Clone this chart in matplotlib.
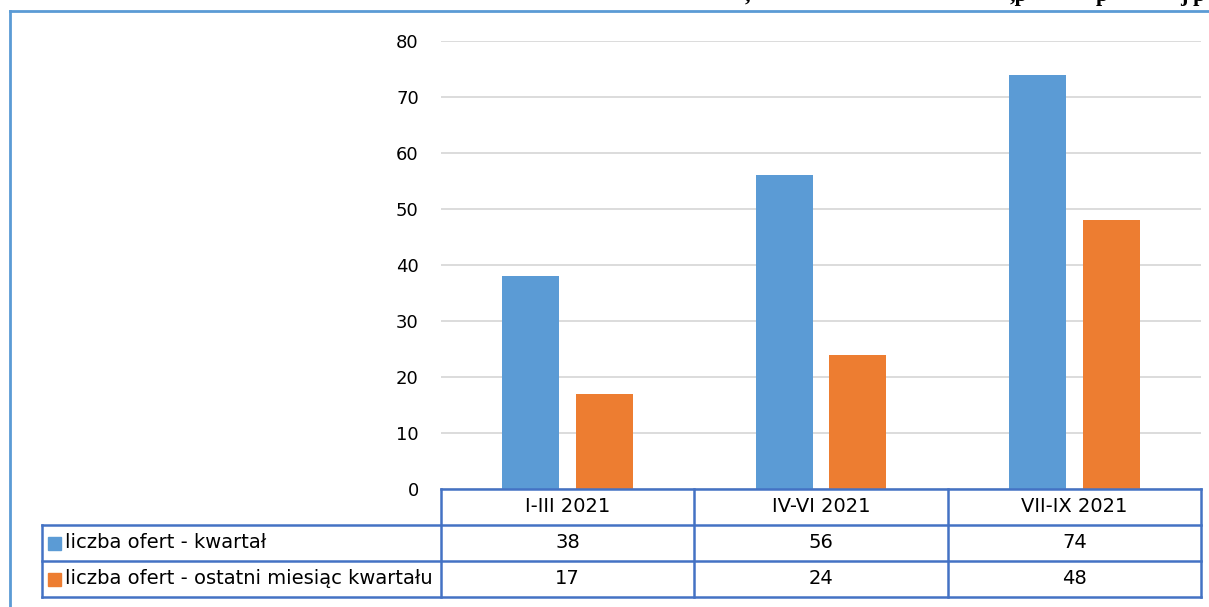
import matplotlib.pyplot as plt
from matplotlib.patches import Rectangle
from matplotlib.lines import Line2D
import numpy as np

# data
categories = ["I-III 2021", "IV-VI 2021", "VII-IX 2021"]
series_names = ["liczba ofert - kwartał", "liczba ofert - ostatni miesiąc kwartału"]
kwartal = [38, 56, 74]
ostatni_miesiac = [17, 24, 48]

blue = "#5B9BD5"
orange = "#ED7D31"
tbl_col = "#4472C4"
W, H = 1209, 607
fs_tick = 13
fs_tbl = 14

plt.rcParams['font.family'] = ['DejaVu Sans']

fig = plt.figure(figsize=(W / 100, H / 100), dpi=100)

def fx(px):
    return px / W

def fy(py):
    return 1 - py / H

# plot area
x0, x1, ytop, ybot = 441, 1201, 41, 489
ax = fig.add_axes([fx(x0), fy(ybot), fx(x1 - x0), (ybot - ytop) / H])
x = np.arange(len(categories))
bw = 0.225
off = 0.145
ax.bar(x - off, kwartal, bw, color=blue, zorder=3)
ax.bar(x + off, ostatni_miesiac, bw, color=orange, zorder=3)
ax.set_xlim(-0.5, len(categories) - 0.5)
ax.set_ylim(0, 80)
ax.set_yticks(range(0, 81, 10))
ax.yaxis.grid(True, color="#D9D9D9", linewidth=1.3, zorder=0)
ax.set_xticks([])
ax.tick_params(axis='y', length=0, pad=16, labelsize=fs_tick, labelcolor="#000000")
for s in ax.spines.values():
    s.set_visible(False)

# data table under the plot
row_h = 36
col_w = (x1 - x0) / len(categories)
left_lbl = 42
lw = 1.8

def hline(xa, xb, y):
    fig.add_artist(Line2D([fx(xa), fx(xb)], [fy(y), fy(y)], color=tbl_col, lw=lw))

def vline(xv, ya, yb):
    fig.add_artist(Line2D([fx(xv), fx(xv)], [fy(ya), fy(yb)], color=tbl_col, lw=lw))

hline(x0, x1, ybot)
hline(left_lbl, x1, ybot + row_h)
hline(left_lbl, x1, ybot + 2 * row_h)
hline(left_lbl, x1, ybot + 3 * row_h)
vline(left_lbl, ybot + row_h, ybot + 3 * row_h)
for i in range(len(categories) + 1):
    vline(x0 + i * col_w, ybot, ybot + 3 * row_h)

for i, c in enumerate(categories):
    fig.text(fx(x0 + (i + 0.5) * col_w), fy(ybot + row_h / 2), c,
             ha='center', va='center', fontsize=fs_tbl)

for r, (name, vals, col) in enumerate(zip(series_names, [kwartal, ostatni_miesiac], [blue, orange])):
    yc = ybot + (r + 1.5) * row_h
    fig.add_artist(Rectangle((fx(48), fy(yc + 6.5)), 13 / W, 13 / H,
                             transform=fig.transFigure, color=col))
    fig.text(fx(65), fy(yc), name, ha='left', va='center', fontsize=fs_tbl)
    for i, v in enumerate(vals):
        fig.text(fx(x0 + (i + 0.5) * col_w), fy(yc), str(v),
                 ha='center', va='center', fontsize=fs_tbl)

# outer frame of the chart
fig.add_artist(Line2D([fx(10), 1], [fy(11), fy(11)], color=blue, lw=2))
fig.add_artist(Line2D([fx(10), fx(10)], [fy(11), 0], color=blue, lw=2))

# clipped heading above the frame (only descenders visible, as in source)
for xp, t in [(745, ","), (1010, ",p"), (1096, "p"), (1180, "j p")]:
    fig.text(fx(xp), fy(1), t, ha='left', va='baseline', fontsize=16,
             fontweight='bold', family='Liberation Serif')

fig.savefig("out.png", dpi=100)
